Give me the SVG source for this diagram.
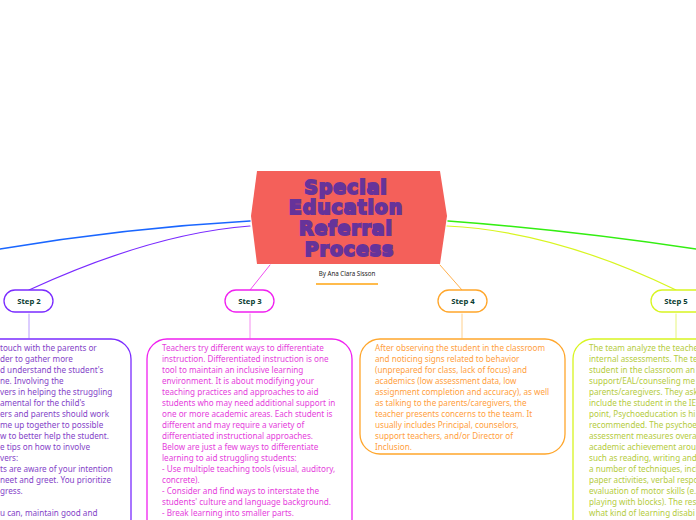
<svg xmlns="http://www.w3.org/2000/svg" width="696" height="520" viewBox="0 0 696 520">
<style>
.c{fill:none;stroke-linecap:round}
.b{fill:#fff;stroke-width:1.3}
.s{font:bold 7.7px "Noto Sans","Open Sans",sans-serif;fill:#0b3d33;text-anchor:middle}
.t{font:8.15px "Noto Sans","Open Sans",sans-serif}
.h{font:900 19px "DejaVu Sans",sans-serif;letter-spacing:.9px;fill:#66339a;stroke:#66339a;stroke-width:1.8;text-anchor:middle}
</style>
<rect width="696" height="520" fill="#fff"/>
<g id="connectors">
<path class="c" d="M250 221Q125 228 0 249" stroke="#1a66ff" stroke-width="1.5"/>
<path class="c" d="M250 226C170 232 90 262 29 290" stroke="#7a2bff" stroke-width="1.2"/>
<path class="c" d="M270 265L250 290" stroke="#f04df0" stroke-width="1"/>
<path class="c" d="M440 265L462 290" stroke="#ffb04d" stroke-width="1"/>
<path class="c" d="M448 221Q570 230 696 249" stroke="#33ee11" stroke-width="1.5"/>
<path class="c" d="M447 226C530 230 610 258 676 290" stroke="#d8f520" stroke-width="1.2"/>
<path class="c" d="M29 314V338" stroke="#b89bff"/>
<path class="c" d="M250 314V338" stroke="#f58cf0"/>
<path class="c" d="M462 314V338" stroke="#ffd08c"/>
<path class="c" d="M676 314V338" stroke="#e6f57d"/>
</g>
<g id="root">
<path d="M257 171H440L447 216L440 264H257L251 216Z" fill="#f4605a"/>
<text class="h" x="346" y="193.500">Special</text>
<text class="h" x="346" y="214">Education</text>
<text class="h" x="346" y="234.500">Referral</text>
<text class="h" x="349.500" y="255.500">Process</text>
<text x="347" y="276" text-anchor="middle" style="font:6.2px 'Noto Sans',sans-serif" fill="#222">By Ana Clara Sisson</text>
<path d="M316 284H378" stroke="#ffa510" stroke-width="1.4"/>
</g>
<g id="step2">
<rect class="b" x="4" y="290" width="49" height="22" rx="11" stroke="#7a2bff"/>
<text class="s" x="29" y="304">Step 2</text>
<rect class="b" x="-100" y="339" width="231" height="200" rx="20" stroke="#7a2bff"/>
<g class="t" fill="#8444c8" transform="translate(0 .7)">
<text x="0" y="350">touch with the parents or</text>
<text x="0" y="361">der to gather more</text>
<text x="0" y="372">d understand the student's</text>
<text x="0" y="383">ne. Involving the</text>
<text x="0" y="394">vers in helping the struggling</text>
<text x="0" y="405">amental for the child's</text>
<text x="0" y="416">ers and parents should work</text>
<text x="0" y="427">me up together to possible</text>
<text x="0" y="438">w to better help the student.</text>
<text x="0" y="449">e tips on how to involve</text>
<text x="0" y="460">vers:</text>
<text x="0" y="471">ts are aware of your intention</text>
<text x="0" y="482">neet and greet. You prioritize</text>
<text x="0" y="493">gress.</text>
<text x="0" y="515">u can, maintain good and</text>
</g>
</g>
<g id="step3">
<rect class="b" x="225" y="290" width="49" height="22" rx="11" stroke="#f020f0"/>
<text class="s" x="250" y="304">Step 3</text>
<rect class="b" x="147" y="339" width="205" height="200" rx="20" stroke="#f020f0"/>
<g class="t" fill="#e540dc" transform="translate(0 .7)">
<text x="162" y="350">Teachers try different ways to differentiate</text>
<text x="162" y="361">instruction. Differentiated instruction is one</text>
<text x="162" y="372">tool to maintain an inclusive learning</text>
<text x="162" y="383">environment. It is about modifying your</text>
<text x="162" y="394">teaching practices and approaches to aid</text>
<text x="162" y="405">students who may need additional support in</text>
<text x="162" y="416">one or more academic areas. Each student is</text>
<text x="162" y="427">different and may require a variety of</text>
<text x="162" y="438">differentiated instructional approaches.</text>
<text x="162" y="449">Below are just a few ways to differentiate</text>
<text x="162" y="460">learning to aid struggling students:</text>
<text x="162" y="471">- Use multiple teaching tools (visual, auditory,</text>
<text x="162" y="482">concrete).</text>
<text x="162" y="493">- Consider and find ways to interstate the</text>
<text x="162" y="504">students' culture and language background.</text>
<text x="162" y="515">- Break learning into smaller parts.</text>
</g>
</g>
<g id="step4">
<rect class="b" x="438" y="290" width="49" height="22" rx="11" stroke="#ffa62b"/>
<text class="s" x="463" y="304">Step 4</text>
<rect class="b" x="360" y="339" width="205" height="115" rx="20" stroke="#ffa62b"/>
<g class="t" fill="#ffa040" transform="translate(0 .7)">
<text x="375" y="350">After observing the student in the classroom</text>
<text x="375" y="361">and noticing signs related to behavior</text>
<text x="375" y="372">(unprepared for class, lack of focus) and</text>
<text x="375" y="383">academics (low assessment data, low</text>
<text x="375" y="394">assignment completion and accuracy), as well</text>
<text x="375" y="405">as talking to the parents/caregivers, the</text>
<text x="375" y="416">teacher presents concerns to the team. It</text>
<text x="375" y="427">usually includes Principal, counselors,</text>
<text x="375" y="438">support teachers, and/or Director of</text>
<text x="375" y="449">Inclusion.</text>
</g>
</g>
<g id="step5">
<rect class="b" x="651" y="290" width="60" height="22" rx="11" stroke="#d8f520"/>
<text class="s" x="676" y="304">Step 5</text>
<rect class="b" x="573" y="339" width="205" height="200" rx="20" stroke="#d8f520"/>
<g class="t" fill="#b5cc40" transform="translate(0 .7)">
<text x="589" y="350">The team analyze the teache</text>
<text x="589" y="361">internal assessments. The te</text>
<text x="589" y="372">student in the classroom an</text>
<text x="589" y="383">support/EAL/counseling me</text>
<text x="589" y="394">parents/caregivers. They ask</text>
<text x="589" y="405">include the student in the IE</text>
<text x="589" y="416">point, Psychoeducation is hi</text>
<text x="589" y="427">recommended. The psychoe</text>
<text x="589" y="438">assessment measures overa</text>
<text x="589" y="449">academic achievement arou</text>
<text x="589" y="460">such as reading, writing and</text>
<text x="589" y="471">a number of techniques, incl</text>
<text x="589" y="482">paper activities, verbal respo</text>
<text x="589" y="493">evaluation of motor skills (e.</text>
<text x="589" y="504">playing with blocks). The res</text>
<text x="589" y="515">what kind of learning disabi</text>
</g>
</g>
</svg>
